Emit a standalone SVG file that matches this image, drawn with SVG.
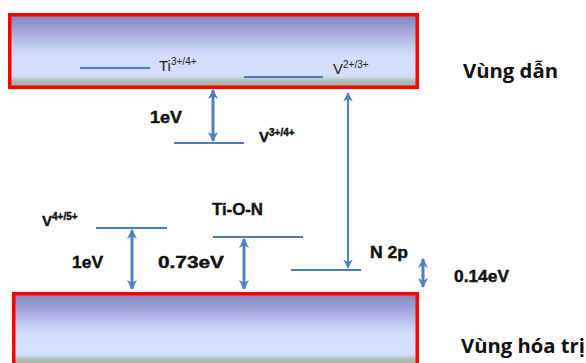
<svg xmlns="http://www.w3.org/2000/svg" width="586" height="363" viewBox="0 0 586 363">
<defs>
<linearGradient id="band" x1="0" y1="0" x2="0" y2="1">
<stop offset="0" stop-color="#8686c1"/>
<stop offset="0.15" stop-color="#9999cf"/>
<stop offset="0.45" stop-color="#c5cff1"/>
<stop offset="0.56" stop-color="#d2ddfa"/>
<stop offset="0.85" stop-color="#d3defa"/>
<stop offset="0.9" stop-color="#b5c2bd"/>
<stop offset="1" stop-color="#9aaa98"/>
</linearGradient>
<marker id="ah" viewBox="0 0 10 10" refX="9" refY="5" markerWidth="3.4" markerHeight="3.4" orient="auto-start-reverse" markerUnits="strokeWidth">
<path d="M0,0 L10,5 L0,10 L3,5 Z" fill="#4f81bd"/>
</marker>
<marker id="ah2" viewBox="0 0 10 10" refX="9" refY="5" markerWidth="4.8" markerHeight="4.8" orient="auto-start-reverse" markerUnits="strokeWidth">
<path d="M0,0 L10,5 L0,10 L3,5 Z" fill="#4f81bd"/>
</marker>
</defs>
<style>
.band{fill:url(#band);stroke:#ff0000;stroke-width:3.5}
.lvl{stroke:#4a7ebb;stroke-width:1.8;fill:none}
.arr{stroke:#4f81bd;stroke-width:3;fill:none;marker-start:url(#ah);marker-end:url(#ah)}
.arrthin{stroke:#4f81bd;stroke-width:2;fill:none;marker-start:url(#ah2);marker-end:url(#ah2)}
.lbl{font-family:"Liberation Sans",Arial,sans-serif;font-weight:bold;fill:#111;stroke:#111;stroke-width:0.4}
.ion{font-family:"Liberation Sans",Arial,sans-serif;fill:#222}
.title{font-family:"Open Sans","Liberation Sans",sans-serif;font-weight:bold;font-size:20px;fill:#111}
</style>
<g id="conduction-band">
<rect class="band" x="9.75" y="14.75" width="407.5" height="72.5"/>
<text class="title" x="463" y="78" textLength="95" lengthAdjust="spacingAndGlyphs">Vùng dẫn</text>
</g>
<g id="valence-band">
<rect class="band" x="13.75" y="293.75" width="403.5" height="72"/>
<text class="title" x="461" y="353" textLength="124" lengthAdjust="spacingAndGlyphs">Vùng hóa trị</text>
</g>
<g id="level-ti34">
<line class="lvl" x1="80" y1="68" x2="150" y2="68"/>
<text class="ion" x="159" y="71" font-size="15">Ti<tspan font-size="10" dy="-6">3+/4+</tspan></text>
</g>
<g id="level-v23">
<line class="lvl" x1="244" y1="77" x2="323" y2="77"/>
<text class="ion" x="333" y="74" font-size="15">V<tspan font-size="10" dy="-6">2+/3+</tspan></text>
</g>
<g id="level-v34">
<line class="lvl" x1="174" y1="143" x2="244" y2="143"/>
<text class="lbl" x="259" y="142" font-size="15">V<tspan font-size="10" dy="-6">3+/4+</tspan></text>
</g>
<g id="level-v45">
<line class="lvl" x1="96" y1="228" x2="167" y2="228"/>
<text class="lbl" x="42" y="226" font-size="15">V<tspan font-size="10" dy="-6">4+/5+</tspan></text>
</g>
<g id="level-tion">
<line class="lvl" x1="213" y1="237" x2="303" y2="237"/>
<text class="lbl" x="212" y="215" font-size="16" textLength="51" lengthAdjust="spacingAndGlyphs">Ti-O-N</text>
</g>
<g id="level-n2p">
<line class="lvl" x1="291" y1="270" x2="361" y2="270"/>
<text class="lbl" x="370" y="258" font-size="16" textLength="38" lengthAdjust="spacingAndGlyphs">N 2p</text>
</g>
<g id="connectors">
<line class="arr" x1="213" y1="90" x2="213" y2="141"/>
<line class="arrthin" x1="348" y1="93" x2="348" y2="268"/>
<line class="arr" x1="132" y1="230" x2="132" y2="289"/>
<line class="arr" x1="244" y1="239" x2="244" y2="289"/>
<line class="arr" x1="423" y1="259" x2="423" y2="287"/>
</g>
<g id="labels">
<text class="lbl" x="150" y="123" font-size="16" textLength="32" lengthAdjust="spacingAndGlyphs">1eV</text>
<text class="lbl" x="72" y="268" font-size="16" textLength="31" lengthAdjust="spacingAndGlyphs">1eV</text>
<text class="lbl" x="158" y="268" font-size="16" textLength="66" lengthAdjust="spacingAndGlyphs">0.73eV</text>
<text class="lbl" x="454" y="282" font-size="16" textLength="55" lengthAdjust="spacingAndGlyphs">0.14eV</text>
</g>
</svg>
